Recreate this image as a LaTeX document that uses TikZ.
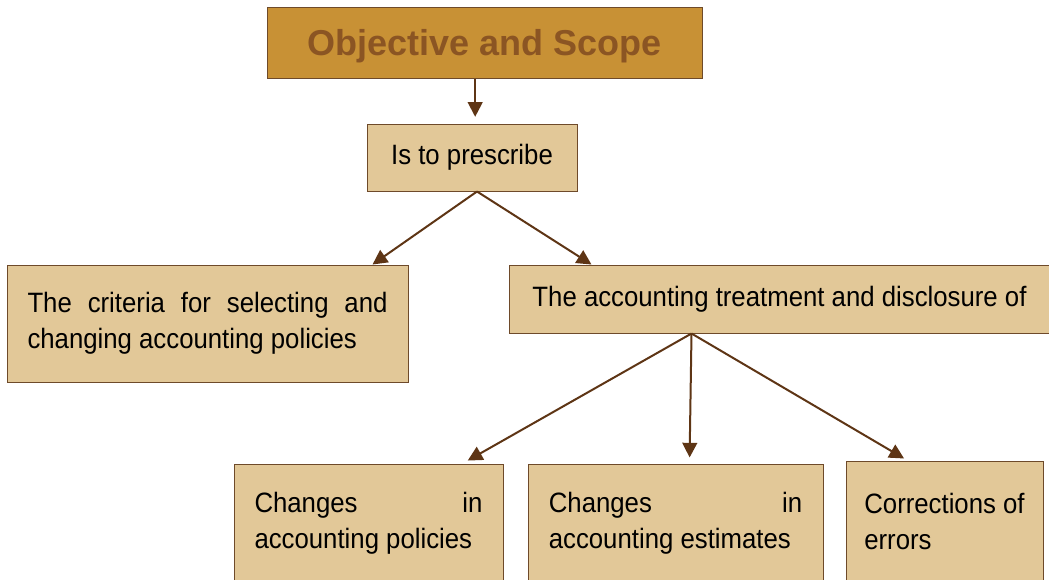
\documentclass[tikz,border=0pt]{standalone}
\usepackage{fontspec}
\setmainfont{Liberation Sans}
\newfontfamily\boxfont{Liberation Sans}[FakeStretch=0.92]
\usetikzlibrary{arrows.meta}

\definecolor{titlefill}{RGB}{200,145,53}
\definecolor{titletext}{RGB}{139,85,35}
\definecolor{boxfill}{RGB}{226,200,152}
\definecolor{boxline}{RGB}{110,74,42}
\definecolor{arrowcol}{RGB}{94,53,21}

\tikzset{every picture/.style={line width=0.75pt}}
\tikzset{
  titlebox/.style={draw=boxline, fill=titlefill, inner sep=0pt, text=titletext,
    text height=19.3pt, text depth=0pt, font=\fontsize{27}{32}\selectfont\bfseries},
  itembox/.style={draw=boxline, fill=boxfill, inner sep=0pt, align=left,
    font=\boxfont\fontsize{21}{27}\selectfont,
    execute at begin node={\spaceskip=0pt\xspaceskip=0pt\relax}}
}
\tikzset{arr/.style={draw=arrowcol, line width=1.5pt, -{Triangle[length=11pt,width=11pt]}}}

\begin{document}
\begin{tikzpicture}[x=0.75pt,y=0.75pt,yscale=-1,xscale=1]
\useasboundingbox (0,0) rectangle (1049,579);

% Title
\node (title) [titlebox, minimum width=326.25pt, minimum height=53.25pt] at (484.5,42.5) {Objective and Scope};
% Second level
\node (presc) [itembox, minimum width=157.5pt, minimum height=50.25pt] at (472,157.5) {Is to prescribe};
% Third level
\node (crit) [itembox, minimum width=300.75pt, minimum height=87.75pt, text width=270pt] at (207.5,323.5) {\makebox[\hsize][s]{The criteria for selecting and}\\changing accounting policies};
\node (treat) [itembox, minimum width=405.75pt, minimum height=51pt] at (779.5,299) {The accounting treatment and disclosure of};
% Bottom level
\node (pol) [itembox, minimum width=201.75pt, minimum height=88.5pt, text width=171pt] at (368.5,523) {\makebox[\hsize][s]{Changes in}\\accounting policies};
\node (est) [itembox, minimum width=221.25pt, minimum height=88.5pt, text width=190pt] at (675.5,523) {\makebox[\hsize][s]{Changes in}\\accounting estimates};
\node (err) [itembox, minimum width=147.75pt, minimum height=90.75pt] at (944.5,521.5) {Corrections of\\errors};

% Connectors
\draw [arr, shorten >=5pt] ([xshift=-7pt]title.south) -- ([xshift=-7pt]title.south |- presc.north);
\draw [arr] ([xshift=3.75pt]presc.south) -- ([xshift=-27pt]crit.north east);
\draw [arr] ([xshift=3.75pt]presc.south) -- ([xshift=62.25pt]treat.north west);
\draw [arr, shorten >=4.5pt] ([xshift=137.25pt]treat.south west) -- ([xshift=-30.75pt]pol.north east);
\draw [arr, shorten >=4.5pt] ([xshift=137.25pt]treat.south west) -- ([xshift=121.5pt]est.north west);
\draw [arr, shorten >=3pt] ([xshift=137.25pt]treat.south west) -- ([xshift=46.5pt]err.north west);

\end{tikzpicture}
\end{document}
